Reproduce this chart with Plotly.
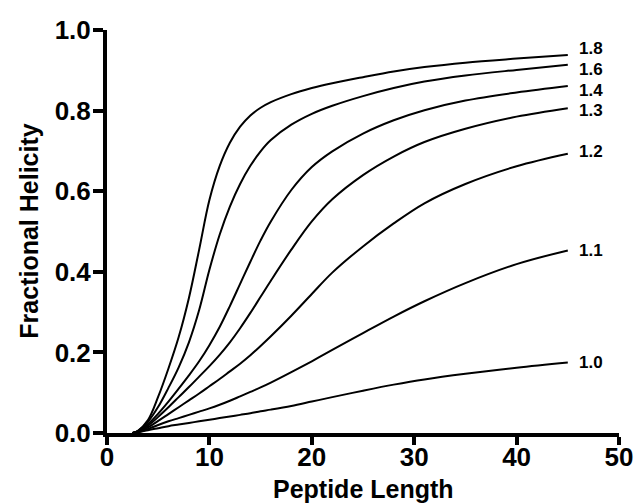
import plotly.graph_objects as go

# Peptide length (residues) at which each curve is sampled
length = [2.5, 3, 4, 5, 6, 7, 8, 9, 10, 11, 12, 13, 14, 15, 16, 18, 20, 22, 25, 28, 31, 35, 40, 45]

# Fractional helicity for each helix propensity value s
s_labels = ["1.8", "1.6", "1.4", "1.3", "1.2", "1.1", "1.0"]

helicity_s18 = [0, 0.005, 0.032, 0.090, 0.160, 0.238, 0.335, 0.455, 0.578, 0.662, 0.720, 0.760,
                0.788, 0.807, 0.821, 0.841, 0.856, 0.868, 0.883, 0.897, 0.908, 0.919, 0.929, 0.938]
helicity_s16 = [0, 0.005, 0.028, 0.065, 0.112, 0.163, 0.225, 0.305, 0.405, 0.492, 0.562, 0.618,
                0.663, 0.699, 0.727, 0.765, 0.792, 0.812, 0.836, 0.856, 0.872, 0.887, 0.901, 0.914]
helicity_s14 = [0, 0.004, 0.022, 0.048, 0.078, 0.110, 0.143, 0.178, 0.218, 0.263, 0.315, 0.370,
                0.425, 0.478, 0.525, 0.603, 0.660, 0.699, 0.743, 0.776, 0.801, 0.825, 0.845, 0.861]
helicity_s13 = [0, 0.004, 0.018, 0.040, 0.064, 0.089, 0.114, 0.140, 0.166, 0.194, 0.225, 0.260,
                0.298, 0.338, 0.378, 0.455, 0.525, 0.580, 0.640, 0.686, 0.722, 0.755, 0.785, 0.806]
helicity_s12 = [0, 0.003, 0.014, 0.030, 0.047, 0.064, 0.081, 0.098, 0.116, 0.134, 0.153, 0.172,
                0.193, 0.216, 0.240, 0.291, 0.345, 0.398, 0.463, 0.520, 0.570, 0.618, 0.662, 0.693]
helicity_s11 = [0, 0.002, 0.010, 0.020, 0.029, 0.037, 0.045, 0.053, 0.061, 0.070, 0.080, 0.091,
                0.102, 0.113, 0.125, 0.151, 0.178, 0.206, 0.248, 0.289, 0.327, 0.372, 0.419, 0.453]
helicity_s10 = [0, 0.0015, 0.007, 0.012, 0.017, 0.021, 0.025, 0.029, 0.033, 0.037, 0.041, 0.045,
                0.049, 0.054, 0.058, 0.067, 0.078, 0.089, 0.105, 0.120, 0.133, 0.147, 0.162, 0.175]

series = [helicity_s18, helicity_s16, helicity_s14, helicity_s13,
          helicity_s12, helicity_s11, helicity_s10]

# vertical nudges (px) so the end labels do not collide
label_shift = [6, -5, -4, -2, 2, 0, 0]

FONT = "Liberation Sans, Arial, Helvetica, sans-serif"
TITLE_FONT = dict(family=FONT, size=25, color="black", weight="bold")

fig = go.Figure()
for name, ys in zip(s_labels, series):
    fig.add_trace(go.Scatter(
        x=length, y=ys, mode="lines", name=name,
        line=dict(color="black", width=2, shape="spline", smoothing=1.0),
        hoverinfo="skip", showlegend=False,
    ))

for name, ys, dy in zip(s_labels, series, label_shift):
    fig.add_annotation(
        x=length[-1], y=ys[-1], text=name, showarrow=False,
        xanchor="left", yanchor="middle", xshift=9, yshift=dy,
        font=dict(family=FONT, size=17, color="black", weight="bold"),
    )

# axis titles
fig.add_annotation(
    text="Peptide Length", xref="paper", yref="paper", x=0.5, y=-0.138,
    xanchor="center", yanchor="middle", showarrow=False, font=TITLE_FONT,
)
fig.add_annotation(
    text="Fractional Helicity", xref="paper", yref="paper", x=-0.154, y=0.5,
    xanchor="center", yanchor="middle", textangle=-90, showarrow=False, font=TITLE_FONT,
)

axis_common = dict(
    showgrid=False, zeroline=False, showline=True, linecolor="black", linewidth=4,
    ticks="outside", tickcolor="black", tickwidth=4, automargin=False,
    tickfont=dict(family=FONT, size=26, color="black", weight="bold"),
)

fig.update_xaxes(
    range=[0, 50], tickvals=[0, 10, 20, 30, 40, 50], ticklen=8, ticklabelstandoff=-10,
    **axis_common,
)
fig.update_yaxes(
    range=[0, 1], tickvals=[0, 0.2, 0.4, 0.6, 0.8, 1.0], tickformat=".1f", ticklen=10,
    ticklabelstandoff=-3, **axis_common,
)

fig.update_layout(
    width=636, height=504,
    margin=dict(l=107, r=17, t=30, b=71),
    paper_bgcolor="white", plot_bgcolor="white",
)

fig.write_html("out.html")
